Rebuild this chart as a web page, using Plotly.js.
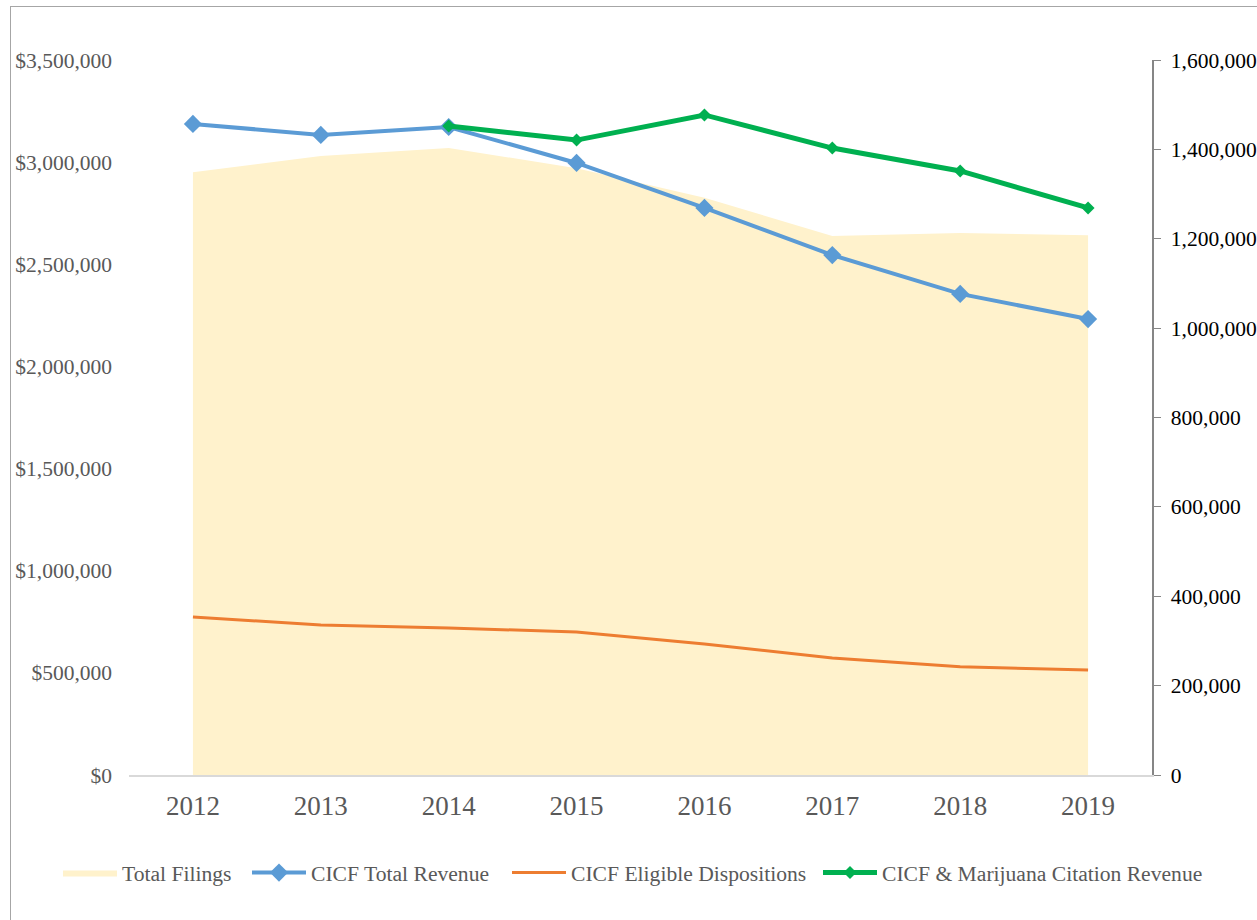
<!DOCTYPE html>
<html>
<head>
<meta charset="utf-8">
<script src="https://cdn.plot.ly/plotly-3.0.1.min.js"></script>
<style>
  html, body { margin: 0; padding: 0; background: #fff; }
  #wrap { position: relative; width: 1257px; height: 920px; }
  #chart { position: absolute; left: 0; top: 0; width: 1257px; height: 920px; }
  #frame { position: absolute; left: 10px; top: 6px; width: 1260px; height: 930px; border: 1.5px solid #a6a6a6; pointer-events: none; }
</style>
</head>
<body>
<div id="wrap">
  <div id="chart"></div>
  <div id="frame"></div>
</div>
<script>
const years = ['2012', '2013', '2014', '2015', '2016', '2017', '2018', '2019'];
const totalFilings = [1349000, 1385000, 1403000, 1358000, 1292000, 1206000, 1213000, 1208000];
const cicfTotalRevenue = [3187000, 3133000, 3172000, 2996000, 2776000, 2545000, 2355000, 2232000];
const cicfEligibleDispositions = [353600, 335700, 329000, 320000, 293000, 262000, 242000, 235000];
const cicfMarijuanaRevenue = [null, null, 3177000, 3108000, 3231000, 3069000, 2957000, 2776000];
const leftTicks = [0, 500000, 1000000, 1500000, 2000000, 2500000, 3000000, 3500000];
const leftTickText = ['$0', '$500,000', '$1,000,000', '$1,500,000', '$2,000,000', '$2,500,000', '$3,000,000', '$3,500,000'];
const rightTicks = [0, 200000, 400000, 600000, 800000, 1000000, 1200000, 1400000, 1600000];
const rightTickText = ['0', '200,000', '400,000', '600,000', '800,000', '1,000,000', '1,200,000', '1,400,000', '1,600,000'];

const font = 'Liberation Serif, Times New Roman, serif';

// yaxis = filings axis (right side, drawn underneath); yaxis2 = revenue axis (left side, overlaid on top)
const traces = [
  {
    x: years, y: totalFilings, name: 'Total Filings', type: 'scatter', mode: 'lines', legend: 'legend',
    fill: 'tozeroy', fillcolor: '#fff2cc', line: {width: 0, color: '#fff2cc'}, yaxis: 'y'
  },
  {
    x: years, y: cicfTotalRevenue, name: 'CICF Total Revenue', type: 'scatter', mode: 'lines+markers', legend: 'legend2',
    line: {color: '#5b9bd5', width: 4}, marker: {symbol: 'diamond', size: 14, color: '#5b9bd5'}, yaxis: 'y2'
  },
  {
    x: years, y: cicfEligibleDispositions, name: 'CICF Eligible Dispositions', type: 'scatter', mode: 'lines', legend: 'legend3',
    line: {color: '#ed7d31', width: 3}, yaxis: 'y'
  },
  {
    x: years, y: cicfMarijuanaRevenue, name: 'CICF &amp; Marijuana Citation Revenue', type: 'scatter', mode: 'lines+markers', legend: 'legend4',
    line: {color: '#00b050', width: 5}, marker: {symbol: 'diamond', size: 10, color: '#00b050'}, yaxis: 'y2'
  }
];

function leg(px) {
  return {
    orientation: 'h', x: px / 1257, xanchor: 'left', xref: 'container',
    y: 47 / 920, yanchor: 'middle', yref: 'container',
    font: {family: font, size: 21.6, color: '#595959'}, itemwidth: 54,
    bgcolor: 'rgba(0,0,0,0)', borderwidth: 0
  };
}

const layout = {
  width: 1257, height: 920,
  margin: {l: 129, r: 105, t: 60, b: 145},
  paper_bgcolor: 'rgba(0,0,0,0)', plot_bgcolor: 'rgba(0,0,0,0)',
  font: {family: font, color: '#595959'},
  showlegend: true,
  legend: leg(58),
  legend2: leg(247),
  legend3: leg(507),
  legend4: leg(818),
  xaxis: {
    type: 'category', range: [-0.5, 7.5], showgrid: false, zeroline: false,
    showline: true, linecolor: '#d9d9d9', linewidth: 2, ticks: '',
    tickfont: {family: font, size: 27, color: '#595959'}, ticklabelstandoff: 6
  },
  yaxis: {
    range: [0, 1600000], tickvals: rightTicks, ticktext: rightTickText,
    side: 'right', showgrid: false, zeroline: false,
    showline: true, linecolor: '#868686', linewidth: 1.5, ticks: 'outside', ticklen: 7, tickcolor: '#868686',
    tickfont: {family: font, size: 21.5, color: '#000000'}, ticklabelstandoff: 6
  },
  yaxis2: {
    range: [0, 3500000], tickvals: leftTicks, ticktext: leftTickText,
    overlaying: 'y', side: 'left', showgrid: false, zeroline: false, showline: false, ticks: '',
    tickfont: {family: font, size: 21.5, color: '#595959'}, ticklabelstandoff: 16
  }
};

Plotly.newPlot('chart', traces, layout, {displayModeBar: false, staticPlot: true});
</script>
</body>
</html>
